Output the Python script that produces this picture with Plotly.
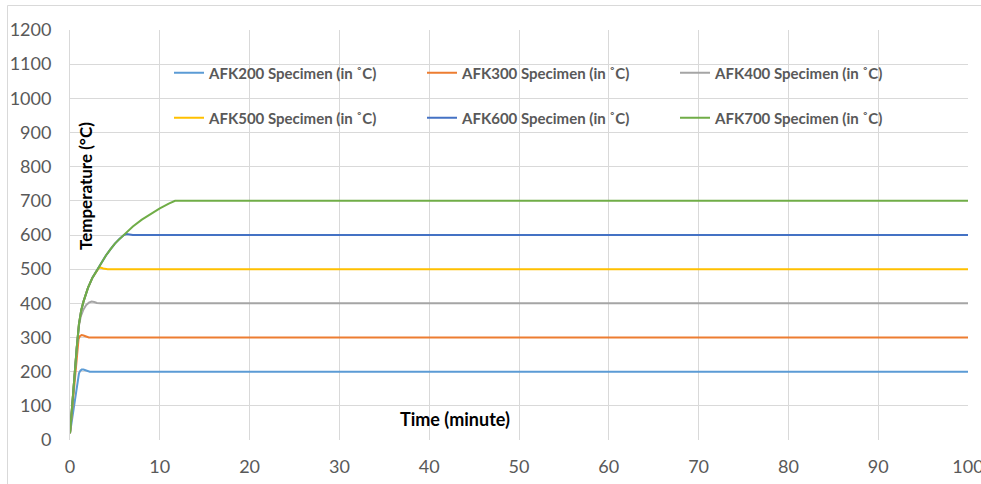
import plotly.graph_objects as go

# Furnace temperature histories (time in minutes, temperature in degrees C)
t_afk200 = [0, 0.25, 0.5, 0.75, 1.0, 1.15, 1.3, 1.5, 1.7, 1.9, 2.2, 100]
y_afk200 = [20, 65, 110, 155, 195, 203, 206, 206, 204, 201, 200, 200]

t_afk300 = [0, 0.25, 0.5, 0.75, 0.95, 1.1, 1.3, 1.5, 1.7, 1.9, 2.1, 100]
y_afk300 = [20, 95, 170, 240, 295, 304, 307, 306, 304, 301, 300, 300]

t_afk400 = [0, 0.25, 0.5, 0.75, 1.0, 1.2, 1.5, 1.8, 2.1, 2.4, 2.7, 3.0, 3.4, 100]
y_afk400 = [20, 110, 190, 270, 335, 362, 382, 395, 402, 405, 404, 401, 400, 400]

t_afk500 = [0, 0.25, 0.5, 0.75, 1.0, 1.25, 1.5, 1.75, 2.0, 2.5, 3.0, 3.2, 3.4, 3.7, 4.2, 100]
y_afk500 = [20, 110, 190, 270, 340, 380, 405, 427, 445, 475, 497, 503, 505, 502, 500, 500]

t_afk600 = [0, 0.25, 0.5, 0.75, 1.0, 1.25, 1.5, 1.75, 2.0, 2.5, 3.0, 3.5, 4.0, 4.5, 5.0, 5.5, 6.0,
            6.3, 6.6, 7.0, 100]
y_afk600 = [20, 110, 190, 270, 340, 380, 405, 427, 445, 475, 497, 520, 540, 558, 575, 588, 600,
            603, 601, 600, 600]

t_afk700 = [0, 0.25, 0.5, 0.75, 1.0, 1.25, 1.5, 1.75, 2.0, 2.5, 3.0, 3.5, 4.0, 4.5, 5.0, 5.5, 6.0,
            7.0, 8.0, 9.0, 10.0, 11.0, 11.7, 100]
y_afk700 = [20, 110, 190, 270, 340, 380, 405, 427, 445, 475, 497, 520, 540, 558, 575, 588, 600,
            625, 645, 662, 678, 692, 700, 700]

series = [
    ("AFK200 Specimen (in ˚C)", t_afk200, y_afk200, "#5B9BD5", "legend"),
    ("AFK300 Specimen (in ˚C)", t_afk300, y_afk300, "#ED7D31", "legend"),
    ("AFK400 Specimen (in ˚C)", t_afk400, y_afk400, "#A5A5A5", "legend"),
    ("AFK500 Specimen (in ˚C)", t_afk500, y_afk500, "#FFC000", "legend2"),
    ("AFK600 Specimen (in ˚C)", t_afk600, y_afk600, "#4472C4", "legend2"),
    ("AFK700 Specimen (in ˚C)", t_afk700, y_afk700, "#70AD47", "legend2"),
]

x_ticks = list(range(0, 101, 10))
y_ticks = list(range(0, 1201, 100))

W, H = 981, 484
ML, MR, MT, MB = 70, 13, 30, 44
PW, PH = W - ML - MR, H - MT - MB

def px_x(px):
    return (px - ML) / PW

def px_y(py):
    return (H - MB - py) / PH

fig = go.Figure()
for name, t, y, color, leg in series:
    fig.add_trace(go.Scatter(
        x=t, y=y, mode="lines", name=name,
        line=dict(color=color, width=2),
        legend=leg,
    ))

font_family = "Lato, 'Open Sans', sans-serif"
grid = "#D9D9D9"
legend_font = dict(family=font_family, size=15, color="#595959", weight="bold")

fig.update_layout(
    width=W, height=H,
    margin=dict(l=ML, r=MR, t=MT, b=MB, autoexpand=False),
    paper_bgcolor="white", plot_bgcolor="white",
    font=dict(family=font_family),
    legend=dict(
        orientation="h", x=px_x(169), y=px_y(73), xanchor="left", yanchor="middle",
        entrywidth=208, entrywidthmode="pixels", font=legend_font,
        bgcolor="rgba(0,0,0,0)", tracegroupgap=0, itemclick=False,
    ),
    legend2=dict(
        orientation="h", x=px_x(169), y=px_y(118), xanchor="left", yanchor="middle",
        entrywidth=208, entrywidthmode="pixels", font=legend_font,
        bgcolor="rgba(0,0,0,0)", tracegroupgap=0, itemclick=False,
    ),
    xaxis=dict(
        range=[0, 100], tickvals=x_ticks, ticktext=[str(v) for v in x_ticks],
        showgrid=True, gridcolor=grid, gridwidth=1, zeroline=False,
        showline=False, ticks="outside", ticklen=10, tickcolor="rgba(0,0,0,0)",
        ticklabeloverflow="allow", automargin=False,
        tickfont=dict(family=font_family, size=18, color="#595959"),
    ),
    yaxis=dict(
        range=[0, 1200], tickvals=y_ticks, ticktext=[str(v) for v in y_ticks],
        showgrid=True, gridcolor=grid, gridwidth=1, zeroline=False,
        showline=True, linecolor=grid, linewidth=1, mirror=False,
        ticks="outside", ticklen=14, tickcolor="rgba(0,0,0,0)",
        ticklabeloverflow="allow", automargin=False,
        tickfont=dict(family=font_family, size=18, color="#595959"),
    ),
    annotations=[
        dict(text="<b>Temperature (°C)</b>", textangle=-90, xref="paper", yref="paper",
             x=px_x(85), y=px_y(186), xanchor="center", yanchor="middle", showarrow=False,
             font=dict(family=font_family, size=17, color="#000000")),
        dict(text="<b>Time (minute)</b>", xref="paper", yref="paper",
             x=px_x(455), y=px_y(419), xanchor="center", yanchor="middle", showarrow=False,
             font=dict(family=font_family, size=18, color="#000000")),
    ],
    shapes=[
        # chart frame (left and top edges)
        dict(type="line", xref="paper", yref="paper",
             x0=px_x(7.5), x1=px_x(7.5), y0=px_y(5.5), y1=px_y(H + 5),
             line=dict(color=grid, width=1)),
        dict(type="line", xref="paper", yref="paper",
             x0=px_x(7.5), x1=px_x(W + 5), y0=px_y(5.5), y1=px_y(5.5),
             line=dict(color=grid, width=1)),
    ],
)

fig.write_html("out.html")
